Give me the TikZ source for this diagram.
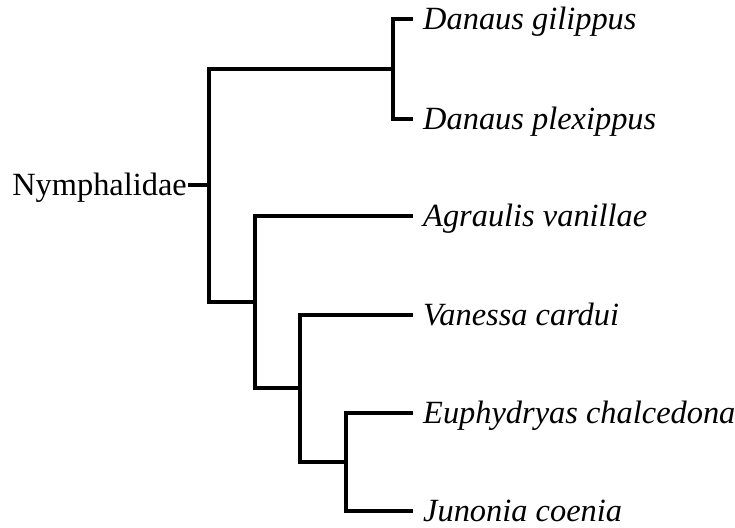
\documentclass[tikz,border=0pt]{standalone}
\usepackage{fontspec}
\setmainfont{Liberation Serif}
\begin{document}
\begin{tikzpicture}[x=1pt, y=-1pt,
  branch/.style={line width=4pt, line join=miter, draw=black},
  taxon/.style={anchor=base west, inner sep=0pt, font=\fontsize{32.4}{38}\selectfont\itshape},
  rootname/.style={anchor=base east, inner sep=0pt, font=\fontsize{32.4}{38}\selectfont}]
  \useasboundingbox (0,0) rectangle (735,527);

  % internal nodes of the tree
  \coordinate (root) at (209,185);
  \coordinate (danaus) at (393,69);
  \coordinate (na) at (255,302);
  \coordinate (nb) at (300,388);
  \coordinate (nc) at (346,462);

  % stem and leaf tips
  \coordinate (stem) at (188,185);
  \coordinate (t1) at (413,19);
  \coordinate (t2) at (413,119);
  \coordinate (t3) at (413,216);
  \coordinate (t4) at (413,315);
  \coordinate (t5) at (413,413);
  \coordinate (t6) at (413,511);

  % labels
  \node[rootname] (lroot) at (187,195.5) {Nymphalidae};
  \node[taxon] (l1) at (423,29.5) {Danaus gilippus};
  \node[taxon] (l2) at (423,129.5) {Danaus plexippus};
  \node[taxon] (l3) at (423,226.5) {Agraulis vanillae};
  \node[taxon] (l4) at (423,325.5) {Vanessa cardui};
  \node[taxon] (l5) at (423,423.5) {Euphydryas chalcedona};
  \node[taxon] (l6) at (423,521.5) {Junonia coenia};

  % branches
  \draw[branch] (stem) -- (root);
  \draw[branch] (root) |- (danaus);
  \draw[branch] (root) |- (na);
  \draw[branch] (danaus) |- (t1);
  \draw[branch] (danaus) |- (t2);
  \draw[branch] (na) |- (t3);
  \draw[branch] (na) |- (nb);
  \draw[branch] (nb) |- (t4);
  \draw[branch] (nb) |- (nc);
  \draw[branch] (nc) |- (t5);
  \draw[branch] (nc) |- (t6);
\end{tikzpicture}
\end{document}
